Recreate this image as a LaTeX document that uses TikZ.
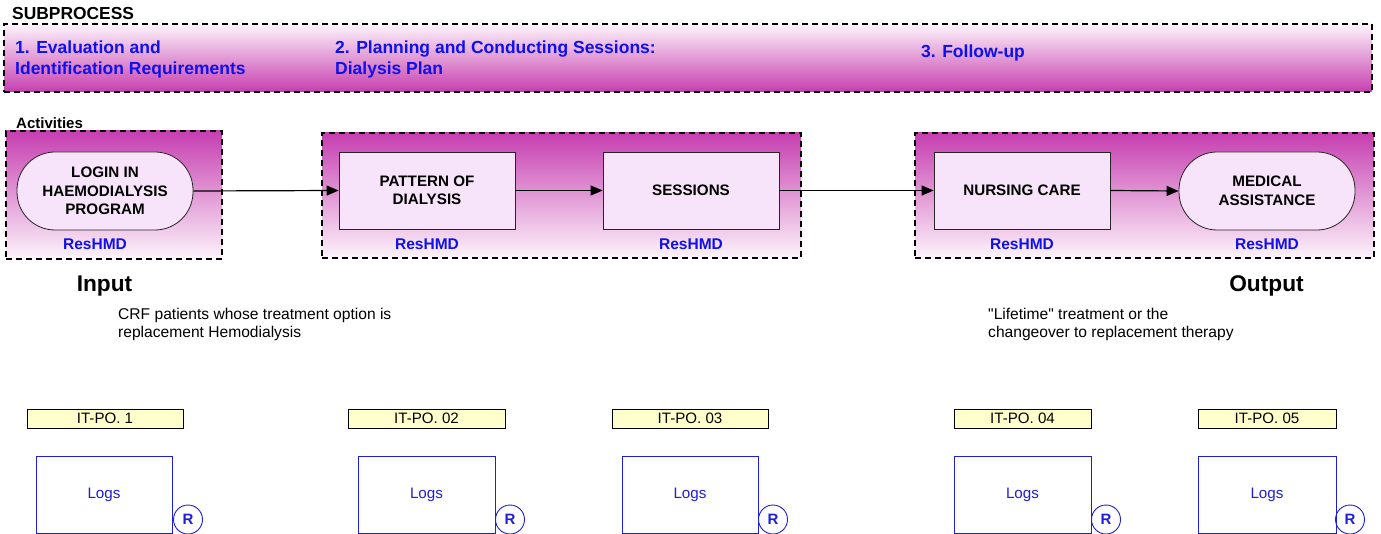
\documentclass[tikz,border=0pt]{standalone}
\usepackage{fontspec}
\setmainfont{Liberation Sans}[Ligatures=TeXOff]
\usetikzlibrary{arrows.meta}
\definecolor{mag}{RGB}{198,62,176}
\definecolor{lightpink}{RGB}{253,244,251}
\definecolor{pinkfill}{RGB}{248,228,250}
\definecolor{txtblue}{RGB}{16,16,235}
\definecolor{itfill}{RGB}{255,255,204}
\definecolor{logblue}{RGB}{30,30,220}
\begin{document}
\begin{tikzpicture}[x=1pt,y=-1pt,
  dashbox/.style={rectangle, draw=black, line width=1.8pt, dash pattern=on 6pt off 4pt, inner sep=0pt},
  banner/.style={dashbox, top color=lightpink, bottom color=mag},
  container/.style={dashbox, top color=mag, bottom color=lightpink},
  actbox/.style={rectangle, draw=black!85, line width=0.8pt, fill=pinkfill, inner sep=0pt,
    minimum width=176pt, minimum height=77pt, align=center,
    font=\bfseries\fontsize{15.2}{18.5}\selectfont},
  stadium/.style={actbox, minimum height=78pt, rounded corners=38pt},
  bluehead/.style={text=txtblue, inner sep=0pt, align=left, font=\bfseries\fontsize{17.5}{21}\selectfont},
  reslabel/.style={text=txtblue, inner sep=0pt, anchor=base, font=\bfseries\fontsize{15.5}{18}\selectfont},
  bigio/.style={inner sep=0pt, anchor=base, font=\bfseries\fontsize{22.7}{26}\selectfont},
  desc/.style={inner sep=0pt, align=left, anchor=north west, font=\fontsize{15.6}{18.7}\selectfont},
  itbox/.style={rectangle, draw=black, line width=0.9pt, fill=itfill, inner sep=0pt,
    minimum height=19pt, font=\fontsize{15.1}{18}\selectfont},
  logbox/.style={rectangle, draw=logblue, line width=0.9pt, inner sep=0pt, minimum height=77pt,
    text=logblue, font=\fontsize{15.2}{18}\selectfont},
  rcirc/.style={circle, draw=logblue, line width=0.9pt, minimum size=29pt, inner sep=0pt,
    text=logblue, font=\bfseries\fontsize{15}{18}\selectfont},
  flow/.style={line width=1.2pt, -{Triangle[length=12pt,width=10pt]}}
]
\useasboundingbox (0,0) rectangle (1381,534);

% Subprocess banner
\node[anchor=base west, inner sep=0pt, font=\bfseries\fontsize{17.4}{21}\selectfont] (sublabel) at (12,20) {SUBPROCESS};
\node[banner, minimum width=1368pt, minimum height=68pt] (bannerbox) at (688,58) {};
\node[bluehead, anchor=north west] (sp1) at (15,40.2) {1. Evaluation and\\Identification Requirements};
\node[bluehead, anchor=north west] (sp2) at (335,40.2) {2. Planning and Conducting Sessions:\\Dialysis Plan};
\node[bluehead, anchor=base west] (sp3) at (921,58) {3. Follow-up};

% Activities
\node[anchor=base west, inner sep=0pt, font=\bfseries\fontsize{15}{18}\selectfont] (actlabel) at (16,129) {Activities};
\node[container, minimum width=216pt, minimum height=128pt] (c1) at (114,195) {};
\node[container, minimum width=479pt, minimum height=125pt] (c2) at (561.5,195.5) {};
\node[container, minimum width=459pt, minimum height=125pt] (c3) at (1144.5,195.5) {};

\node[stadium] (login) at (105,191) {LOGIN IN\\HAEMODIALYSIS\\PROGRAM};
\node[actbox] (pattern) at (427,190.5) {PATTERN OF\\DIALYSIS};
\node[actbox] (sessions) at (691,190.5) {SESSIONS};
\node[actbox] (nursing) at (1022,190.5) {NURSING CARE};
\node[stadium] (medical) at (1267,191) {MEDICAL\\ASSISTANCE};

\node[reslabel] (r-login) at (95,250) {ResHMD};
\node[reslabel] (r-pattern) at (427,250) {ResHMD};
\node[reslabel] (r-sessions) at (691,250) {ResHMD};
\node[reslabel] (r-nursing) at (1022,250) {ResHMD};
\node[reslabel] (r-medical) at (1267,250) {ResHMD};

\draw[flow] (login.east) -- (pattern.west);
\draw[flow] (pattern.east) -- (sessions.west);
\draw[flow] (sessions.east) -- (nursing.west);
\draw[flow] (nursing.east) -- (medical.west);

% Input / Output
\node[bigio] (input) at (104.5,292) {Input};
\node[bigio] (output) at (1266.5,292) {Output};
\node[desc] (indesc) at (118,307.5) {CRF patients whose treatment option is\\replacement Hemodialysis};
\node[desc] (outdesc) at (988,307.5) {"Lifetime" treatment or the\\changeover to replacement therapy};

% IT-PO boxes
\node[itbox, minimum width=156pt] (it1) at (105,418.5) {IT-PO. 1};
\node[itbox, minimum width=157pt] (it2) at (426.5,418.5) {IT-PO. 02};
\node[itbox, minimum width=156pt] (it3) at (690,418.5) {IT-PO. 03};
\node[itbox, minimum width=137pt] (it4) at (1022.5,418.5) {IT-PO. 04};
\node[itbox, minimum width=138pt] (it5) at (1267,418.5) {IT-PO. 05};

% Logs boxes
\node[logbox, minimum width=136pt] (logs1) at (104,494.5) {Logs};
\node[logbox, minimum width=137pt] (logs2) at (426.5,494.5) {Logs};
\node[logbox, minimum width=136pt] (logs3) at (690,494.5) {Logs};
\node[logbox, minimum width=137pt] (logs4) at (1022.5,494.5) {Logs};
\node[logbox, minimum width=138pt] (logs5) at (1267,494.5) {Logs};

\node[rcirc] (rc1) at (188,519.5) {R};
\node[rcirc] (rc2) at (510,519.5) {R};
\node[rcirc] (rc3) at (773,519.5) {R};
\node[rcirc] (rc4) at (1106,519.5) {R};
\node[rcirc] (rc5) at (1350,519.5) {R};
\end{tikzpicture}
\end{document}
